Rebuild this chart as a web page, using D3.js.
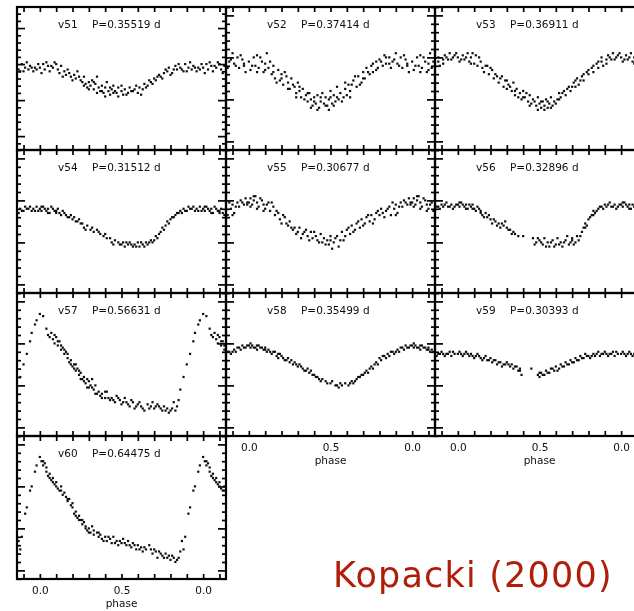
<!DOCTYPE html>
<html>
<head>
<meta charset="utf-8">
<script src="https://cdn.jsdelivr.net/npm/d3@7"></script>
<style>
  body { margin: 0; background: #fff; }
  svg { display: block; }
</style>
</head>
<body>
<script>
const width = 634;
const height = 611;

// star names and periods (days), in panel order
const names = ["v51", "v52", "v53", "v54", "v55", "v56", "v57", "v58", "v59", "v60"];
const periods = ["0.35519", "0.37414", "0.36911", "0.31512", "0.30677", "0.32896", "0.56631", "0.35499", "0.30393", "0.64475"];

// magnitude range shown in each panel (top, bottom)
const yRanges = [
  [-0.117, 0.677], [-0.04, 0.641], [-0.04, 0.641],
  [-0.04, 0.641], [-0.04, 0.641], [-0.04, 0.641],
  [-0.04, 0.641], [-0.04, 0.641], [-0.04, 0.641],
  [-0.04, 0.641]
];

const phaseTicks = [0, 0.5, 1];
const phaseLabels = ["0.0", "0.5", "0.0"];

// [phase, mag]
const v51 = [[0.00,0.22],[0.02,0.20],[0.03,0.23],[0.05,0.21],[0.06,0.24],[0.08,0.22],[0.09,0.19],[0.11,0.23],[0.12,0.25],[0.13,0.21],[0.15,0.24],[0.16,0.26],[0.18,0.25],[0.19,0.27],[0.21,0.26],[0.22,0.28],[0.23,0.24],[0.25,0.29],[0.26,0.30],[0.27,0.27],[0.28,0.31],[0.29,0.33],[0.30,0.30],[0.31,0.32],[0.32,0.29],[0.33,0.34],[0.34,0.31],[0.35,0.27],[0.36,0.33],[0.37,0.35],[0.38,0.32],[0.39,0.36],[0.40,0.33],[0.41,0.30],[0.42,0.35],[0.43,0.37],[0.44,0.34],[0.45,0.32],[0.46,0.35],[0.47,0.36],[0.48,0.33],[0.50,0.35],[0.51,0.37],[0.52,0.34],[0.54,0.36],[0.55,0.33],[0.57,0.35],[0.58,0.34],[0.60,0.36],[0.61,0.33],[0.63,0.34],[0.64,0.31],[0.66,0.32],[0.68,0.30],[0.70,0.28],[0.71,0.29],[0.73,0.26],[0.74,0.27],[0.76,0.25],[0.78,0.24],[0.79,0.22],[0.81,0.25],[0.83,0.21],[0.84,0.23],[0.86,0.22],[0.88,0.24],[0.89,0.20],[0.91,0.22],[0.93,0.23],[0.94,0.21],[0.96,0.24],[0.97,0.22],[0.99,0.20],
  [0.01,0.25],[0.04,0.19],[0.07,0.21],[0.10,0.20],[0.14,0.27],[0.17,0.23],[0.20,0.29],[0.24,0.27],[0.27,0.32],[0.30,0.34],[0.33,0.30],[0.35,0.36],[0.38,0.35],[0.40,0.38],[0.43,0.33],[0.45,0.36],[0.48,0.38],[0.50,0.32],[0.53,0.37],[0.56,0.35],[0.59,0.32],[0.62,0.37],[0.65,0.33],[0.67,0.29],[0.69,0.31],[0.72,0.27],[0.75,0.28],[0.77,0.23],[0.80,0.26],[0.82,0.23],[0.85,0.20],[0.87,0.23],[0.90,0.24],[0.92,0.19],[0.95,0.22],[0.98,0.23]];

const v52 = [[0.00,0.22],[0.01,0.26],[0.03,0.20],[0.04,0.24],[0.05,0.19],[0.06,0.25],[0.08,0.22],[0.09,0.27],[0.10,0.23],[0.11,0.18],[0.12,0.25],[0.14,0.28],[0.15,0.24],[0.16,0.30],[0.18,0.26],[0.19,0.31],[0.20,0.28],[0.21,0.33],[0.23,0.29],[0.24,0.32],[0.25,0.35],[0.26,0.30],[0.28,0.34],[0.29,0.37],[0.30,0.32],[0.31,0.36],[0.32,0.39],[0.33,0.35],[0.35,0.38],[0.36,0.41],[0.37,0.37],[0.38,0.40],[0.39,0.43],[0.40,0.39],[0.41,0.42],[0.42,0.38],[0.43,0.44],[0.44,0.41],[0.45,0.37],[0.46,0.42],[0.47,0.39],[0.48,0.43],[0.49,0.40],[0.50,0.36],[0.51,0.42],[0.52,0.38],[0.53,0.41],[0.54,0.34],[0.55,0.40],[0.56,0.37],[0.58,0.39],[0.59,0.35],[0.60,0.38],[0.61,0.33],[0.62,0.36],[0.64,0.31],[0.66,0.34],[0.67,0.29],[0.69,0.32],[0.70,0.27],[0.71,0.30],[0.72,0.25],[0.74,0.28],[0.75,0.24],[0.76,0.27],[0.78,0.22],[0.79,0.25],[0.80,0.21],[0.82,0.24],[0.83,0.19],[0.84,0.23],[0.86,0.20],[0.87,0.25],[0.88,0.22],[0.90,0.18],[0.91,0.23],[0.93,0.20],[0.94,0.25],[0.96,0.21],[0.97,0.24],[0.98,0.27],
  [0.02,0.24],[0.05,0.27],[0.07,0.20],[0.10,0.26],[0.13,0.22],[0.15,0.27],[0.17,0.32],[0.20,0.30],[0.22,0.27],[0.24,0.35],[0.27,0.33],[0.29,0.39],[0.31,0.34],[0.34,0.40],[0.36,0.37],[0.38,0.44],[0.40,0.41],[0.42,0.45],[0.44,0.39],[0.47,0.43],[0.49,0.45],[0.50,0.39],[0.52,0.43],[0.54,0.39],[0.57,0.41],[0.59,0.32],[0.62,0.39],[0.63,0.33],[0.65,0.29],[0.68,0.33],[0.70,0.30],[0.73,0.27],[0.76,0.23],[0.78,0.26],[0.81,0.22],[0.84,0.20],[0.86,0.23],[0.89,0.21],[0.92,0.24],[0.95,0.19],[0.97,0.23]];

const v53 = [[0.00,0.20],[0.01,0.22],[0.03,0.19],[0.04,0.21],[0.06,0.18],[0.07,0.22],[0.08,0.20],[0.10,0.23],[0.11,0.19],[0.12,0.24],[0.14,0.22],[0.15,0.25],[0.16,0.27],[0.18,0.24],[0.19,0.28],[0.21,0.26],[0.22,0.30],[0.24,0.29],[0.25,0.32],[0.26,0.30],[0.28,0.34],[0.29,0.31],[0.30,0.35],[0.31,0.33],[0.33,0.36],[0.34,0.32],[0.35,0.38],[0.36,0.35],[0.38,0.37],[0.39,0.40],[0.40,0.36],[0.41,0.39],[0.43,0.41],[0.44,0.38],[0.45,0.42],[0.46,0.40],[0.48,0.43],[0.49,0.39],[0.50,0.42],[0.51,0.44],[0.52,0.41],[0.53,0.43],[0.54,0.40],[0.55,0.44],[0.56,0.42],[0.57,0.39],[0.58,0.43],[0.59,0.41],[0.61,0.40],[0.62,0.37],[0.63,0.39],[0.65,0.36],[0.66,0.38],[0.68,0.34],[0.69,0.36],[0.71,0.32],[0.72,0.34],[0.73,0.30],[0.75,0.31],[0.76,0.29],[0.77,0.31],[0.79,0.27],[0.80,0.28],[0.82,0.25],[0.83,0.27],[0.85,0.23],[0.86,0.25],[0.88,0.22],[0.89,0.24],[0.91,0.21],[0.92,0.19],[0.94,0.21],[0.95,0.18],[0.97,0.20],[0.98,0.19],
  [0.02,0.21],[0.05,0.20],[0.08,0.23],[0.09,0.18],[0.13,0.20],[0.17,0.24],[0.20,0.25],[0.23,0.28],[0.27,0.29],[0.30,0.31],[0.32,0.34],[0.35,0.36],[0.37,0.39],[0.40,0.39],[0.42,0.37],[0.44,0.43],[0.47,0.41],[0.49,0.45],[0.51,0.41],[0.53,0.45],[0.55,0.41],[0.57,0.44],[0.60,0.42],[0.62,0.40],[0.64,0.37],[0.67,0.35],[0.70,0.34],[0.72,0.31],[0.74,0.33],[0.77,0.28],[0.80,0.26],[0.83,0.24],[0.86,0.22],[0.88,0.20],[0.91,0.23],[0.93,0.20],[0.96,0.21],[0.99,0.18]];

const v54 = [[0.00,0.24],[0.01,0.25],[0.02,0.23],[0.04,0.25],[0.05,0.24],[0.06,0.26],[0.07,0.23],[0.09,0.25],[0.10,0.26],[0.11,0.24],[0.13,0.27],[0.14,0.25],[0.16,0.27],[0.17,0.28],[0.19,0.27],[0.20,0.29],[0.22,0.30],[0.24,0.29],[0.25,0.31],[0.27,0.33],[0.29,0.32],[0.31,0.34],[0.33,0.35],[0.35,0.34],[0.37,0.36],[0.39,0.37],[0.41,0.38],[0.43,0.38],[0.44,0.40],[0.46,0.39],[0.48,0.40],[0.49,0.41],[0.51,0.40],[0.52,0.42],[0.54,0.41],[0.55,0.40],[0.57,0.42],[0.58,0.41],[0.60,0.40],[0.61,0.42],[0.63,0.41],[0.65,0.40],[0.66,0.41],[0.68,0.39],[0.70,0.39],[0.71,0.37],[0.73,0.36],[0.74,0.35],[0.75,0.33],[0.77,0.32],[0.78,0.30],[0.80,0.29],[0.81,0.28],[0.83,0.27],[0.84,0.26],[0.86,0.25],[0.87,0.26],[0.88,0.24],[0.90,0.25],[0.91,0.23],[0.92,0.24],[0.94,0.23],[0.95,0.25],[0.96,0.24],[0.98,0.23],[0.99,0.25],
  [0.01,0.23],[0.03,0.24],[0.05,0.26],[0.08,0.24],[0.10,0.25],[0.12,0.26],[0.15,0.26],[0.18,0.28],[0.21,0.28],[0.23,0.30],[0.26,0.31],[0.28,0.34],[0.32,0.33],[0.36,0.35],[0.40,0.36],[0.45,0.41],[0.50,0.41],[0.53,0.40],[0.56,0.41],[0.59,0.42],[0.62,0.40],[0.64,0.42],[0.67,0.40],[0.69,0.40],[0.72,0.38],[0.76,0.34],[0.79,0.31],[0.82,0.28],[0.85,0.26],[0.89,0.25],[0.93,0.24],[0.97,0.25]];

const v55 = [[0.00,0.21],[0.01,0.19],[0.02,0.22],[0.03,0.20],[0.04,0.18],[0.05,0.21],[0.06,0.23],[0.08,0.20],[0.09,0.22],[0.10,0.24],[0.12,0.21],[0.13,0.25],[0.15,0.23],[0.16,0.27],[0.18,0.26],[0.19,0.29],[0.21,0.27],[0.23,0.31],[0.25,0.30],[0.27,0.34],[0.28,0.33],[0.30,0.35],[0.31,0.33],[0.33,0.36],[0.35,0.34],[0.36,0.37],[0.38,0.35],[0.39,0.38],[0.41,0.37],[0.42,0.39],[0.44,0.36],[0.45,0.40],[0.46,0.38],[0.48,0.39],[0.49,0.41],[0.50,0.37],[0.52,0.40],[0.53,0.38],[0.55,0.42],[0.56,0.39],[0.57,0.35],[0.59,0.37],[0.60,0.34],[0.62,0.36],[0.63,0.32],[0.65,0.34],[0.66,0.31],[0.68,0.33],[0.69,0.29],[0.71,0.31],[0.72,0.28],[0.74,0.30],[0.75,0.27],[0.77,0.29],[0.78,0.26],[0.80,0.27],[0.81,0.24],[0.83,0.28],[0.84,0.25],[0.86,0.23],[0.87,0.27],[0.89,0.24],[0.90,0.22],[0.91,0.26],[0.93,0.21],[0.94,0.23],[0.95,0.20],[0.97,0.22],[0.98,0.19],[0.99,0.21],
  [0.01,0.23],[0.03,0.18],[0.05,0.24],[0.07,0.19],[0.09,0.25],[0.11,0.22],[0.14,0.21],[0.17,0.25],[0.20,0.31],[0.22,0.28],[0.24,0.32],[0.26,0.33],[0.29,0.36],[0.32,0.38],[0.34,0.35],[0.37,0.39],[0.40,0.35],[0.43,0.40],[0.47,0.41],[0.50,0.39],[0.51,0.43],[0.54,0.37],[0.58,0.39],[0.61,0.33],[0.64,0.35],[0.67,0.30],[0.70,0.32],[0.73,0.27],[0.76,0.31],[0.79,0.25],[0.82,0.26],[0.85,0.24],[0.88,0.21],[0.90,0.27],[0.92,0.23],[0.96,0.21],[0.99,0.22]];

const v56 = [[0.00,0.22],[0.01,0.23],[0.02,0.21],[0.04,0.23],[0.05,0.22],[0.06,0.24],[0.08,0.23],[0.09,0.22],[0.10,0.24],[0.11,0.25],[0.13,0.24],[0.14,0.26],[0.15,0.27],[0.17,0.26],[0.18,0.28],[0.20,0.29],[0.21,0.31],[0.23,0.30],[0.25,0.31],[0.26,0.33],[0.28,0.32],[0.29,0.30],[0.31,0.34],[0.33,0.36],[0.34,0.35],[0.37,0.37],[0.40,0.37],[0.46,0.38],[0.48,0.40],[0.50,0.39],[0.52,0.41],[0.53,0.38],[0.55,0.40],[0.56,0.42],[0.58,0.39],[0.60,0.41],[0.61,0.38],[0.63,0.40],[0.64,0.42],[0.66,0.39],[0.67,0.37],[0.69,0.40],[0.70,0.38],[0.71,0.41],[0.73,0.37],[0.74,0.39],[0.76,0.35],[0.77,0.33],[0.78,0.31],[0.79,0.32],[0.80,0.29],[0.82,0.27],[0.83,0.25],[0.84,0.26],[0.86,0.24],[0.87,0.23],[0.89,0.24],[0.90,0.22],[0.91,0.23],[0.93,0.21],[0.94,0.23],[0.96,0.22],[0.97,0.24],[0.99,0.22],
  [0.01,0.21],[0.03,0.22],[0.05,0.24],[0.07,0.22],[0.09,0.24],[0.12,0.23],[0.14,0.25],[0.16,0.28],[0.19,0.27],[0.22,0.29],[0.24,0.32],[0.27,0.31],[0.30,0.33],[0.32,0.34],[0.35,0.36],[0.47,0.41],[0.49,0.38],[0.51,0.40],[0.54,0.42],[0.57,0.40],[0.59,0.42],[0.62,0.41],[0.65,0.40],[0.68,0.41],[0.70,0.39],[0.72,0.40],[0.75,0.37],[0.78,0.33],[0.81,0.28],[0.83,0.27],[0.85,0.25],[0.88,0.23],[0.92,0.22],[0.95,0.23],[0.98,0.23]];

const v57 = [[0.00,0.06],[0.02,0.07],[0.04,0.13],[0.05,0.16],[0.07,0.15],[0.08,0.18],[0.09,0.20],[0.10,0.17],[0.11,0.21],[0.12,0.19],[0.13,0.23],[0.14,0.22],[0.15,0.25],[0.16,0.24],[0.17,0.27],[0.18,0.29],[0.19,0.28],[0.20,0.31],[0.21,0.30],[0.22,0.33],[0.23,0.32],[0.24,0.35],[0.25,0.34],[0.26,0.37],[0.27,0.36],[0.28,0.39],[0.29,0.41],[0.30,0.38],[0.31,0.40],[0.32,0.37],[0.33,0.42],[0.34,0.44],[0.36,0.43],[0.37,0.45],[0.38,0.44],[0.40,0.46],[0.41,0.43],[0.43,0.47],[0.44,0.46],[0.46,0.48],[0.47,0.45],[0.49,0.47],[0.50,0.49],[0.52,0.46],[0.53,0.48],[0.55,0.50],[0.57,0.48],[0.58,0.51],[0.60,0.49],[0.62,0.50],[0.64,0.52],[0.66,0.49],[0.68,0.50],[0.69,0.48],[0.70,0.51],[0.72,0.49],[0.73,0.50],[0.75,0.52],[0.76,0.50],[0.78,0.51],[0.79,0.53],[0.81,0.51],[0.82,0.48],[0.83,0.52],[0.85,0.47],[0.86,0.42],[0.88,0.36],[0.90,0.30],[0.92,0.25],[0.94,0.19],[0.95,0.15],[0.97,0.11],[0.98,0.09],
  [0.06,0.17],[0.09,0.16],[0.11,0.19],[0.13,0.21],[0.15,0.23],[0.17,0.25],[0.19,0.30],[0.21,0.32],[0.22,0.30],[0.24,0.33],[0.25,0.37],[0.27,0.38],[0.29,0.37],[0.30,0.41],[0.32,0.41],[0.34,0.40],[0.35,0.44],[0.38,0.46],[0.40,0.43],[0.42,0.46],[0.45,0.47],[0.48,0.46],[0.51,0.48],[0.54,0.49],[0.56,0.47],[0.59,0.50],[0.61,0.48],[0.63,0.51],[0.67,0.51],[0.71,0.50],[0.74,0.51],[0.77,0.52],[0.80,0.52],[0.84,0.50]];

const v58 = [[0.00,0.21],[0.01,0.22],[0.02,0.21],[0.04,0.22],[0.05,0.23],[0.06,0.21],[0.07,0.22],[0.09,0.23],[0.10,0.22],[0.11,0.24],[0.12,0.23],[0.14,0.25],[0.15,0.24],[0.17,0.26],[0.18,0.27],[0.19,0.25],[0.21,0.27],[0.22,0.28],[0.24,0.27],[0.25,0.29],[0.27,0.30],[0.28,0.29],[0.30,0.31],[0.31,0.30],[0.33,0.32],[0.34,0.33],[0.36,0.32],[0.37,0.34],[0.39,0.35],[0.41,0.36],[0.43,0.37],[0.45,0.37],[0.47,0.38],[0.50,0.39],[0.53,0.40],[0.55,0.41],[0.57,0.40],[0.59,0.39],[0.61,0.40],[0.63,0.38],[0.64,0.39],[0.66,0.37],[0.68,0.36],[0.70,0.35],[0.72,0.33],[0.73,0.34],[0.75,0.31],[0.76,0.32],[0.78,0.29],[0.79,0.30],[0.81,0.28],[0.82,0.26],[0.84,0.27],[0.85,0.25],[0.86,0.26],[0.88,0.24],[0.89,0.25],[0.91,0.23],[0.92,0.24],[0.94,0.22],[0.95,0.23],[0.96,0.21],[0.98,0.22],[0.99,0.21],
  [0.01,0.20],[0.03,0.22],[0.05,0.21],[0.08,0.22],[0.10,0.23],[0.13,0.24],[0.16,0.24],[0.18,0.25],[0.20,0.26],[0.23,0.28],[0.26,0.28],[0.29,0.30],[0.32,0.31],[0.35,0.33],[0.38,0.33],[0.40,0.35],[0.42,0.36],[0.44,0.38],[0.48,0.39],[0.51,0.38],[0.54,0.40],[0.56,0.39],[0.62,0.39],[0.65,0.38],[0.67,0.36],[0.69,0.35],[0.71,0.34],[0.74,0.32],[0.77,0.30],[0.80,0.27],[0.83,0.26],[0.87,0.24],[0.90,0.24],[0.93,0.22],[0.97,0.22]];

const v59 = [[0.00,0.25],[0.01,0.24],[0.03,0.26],[0.04,0.25],[0.05,0.24],[0.07,0.26],[0.08,0.25],[0.10,0.27],[0.11,0.26],[0.12,0.25],[0.14,0.27],[0.15,0.28],[0.17,0.26],[0.18,0.28],[0.20,0.27],[0.21,0.29],[0.23,0.28],[0.24,0.30],[0.26,0.29],[0.27,0.31],[0.29,0.30],[0.30,0.29],[0.32,0.31],[0.33,0.30],[0.34,0.32],[0.36,0.31],[0.37,0.33],[0.38,0.32],[0.39,0.35],[0.45,0.32],[0.49,0.35],[0.50,0.36],[0.51,0.34],[0.53,0.35],[0.54,0.33],[0.56,0.34],[0.57,0.32],[0.59,0.33],[0.60,0.31],[0.62,0.32],[0.63,0.30],[0.65,0.31],[0.66,0.29],[0.68,0.30],[0.69,0.28],[0.71,0.29],[0.72,0.27],[0.74,0.28],[0.75,0.26],[0.77,0.27],[0.78,0.25],[0.80,0.26],[0.81,0.27],[0.83,0.25],[0.84,0.26],[0.86,0.24],[0.87,0.26],[0.89,0.25],[0.90,0.24],[0.92,0.26],[0.93,0.25],[0.95,0.24],[0.96,0.26],[0.98,0.25],
  [0.02,0.25],[0.06,0.25],[0.09,0.26],[0.13,0.26],[0.16,0.27],[0.19,0.28],[0.22,0.28],[0.25,0.29],[0.28,0.30],[0.31,0.30],[0.35,0.31],[0.38,0.33],[0.50,0.34],[0.52,0.35],[0.55,0.34],[0.58,0.32],[0.61,0.33],[0.64,0.31],[0.67,0.30],[0.70,0.29],[0.73,0.28],[0.76,0.27],[0.79,0.26],[0.82,0.26],[0.85,0.25],[0.88,0.25],[0.91,0.25],[0.94,0.25],[0.97,0.24]];

const v60 = [[0.00,0.06],[0.01,0.08],[0.02,0.10],[0.03,0.09],[0.04,0.13],[0.05,0.15],[0.06,0.14],[0.07,0.17],[0.08,0.16],[0.09,0.19],[0.10,0.18],[0.11,0.21],[0.12,0.22],[0.13,0.20],[0.14,0.24],[0.16,0.25],[0.17,0.27],[0.18,0.26],[0.19,0.29],[0.20,0.30],[0.21,0.33],[0.22,0.32],[0.23,0.35],[0.24,0.34],[0.25,0.36],[0.26,0.38],[0.27,0.37],[0.28,0.39],[0.29,0.41],[0.30,0.40],[0.31,0.42],[0.32,0.39],[0.33,0.43],[0.35,0.42],[0.36,0.44],[0.37,0.43],[0.38,0.45],[0.40,0.44],[0.41,0.46],[0.43,0.45],[0.44,0.47],[0.45,0.44],[0.47,0.46],[0.48,0.48],[0.50,0.47],[0.51,0.45],[0.53,0.48],[0.54,0.46],[0.56,0.49],[0.57,0.47],[0.59,0.50],[0.60,0.48],[0.62,0.49],[0.63,0.51],[0.65,0.50],[0.67,0.48],[0.69,0.52],[0.70,0.50],[0.72,0.54],[0.73,0.51],[0.75,0.53],[0.77,0.52],[0.78,0.54],[0.80,0.55],[0.81,0.53],[0.83,0.56],[0.84,0.55],[0.86,0.51],[0.87,0.46],[0.88,0.50],[0.89,0.44],[0.91,0.33],[0.92,0.30],[0.94,0.22],[0.95,0.20],[0.97,0.13],[0.98,0.10],
  [0.02,0.08],[0.04,0.11],[0.06,0.16],[0.08,0.18],[0.10,0.20],[0.13,0.22],[0.15,0.23],[0.17,0.26],[0.20,0.28],[0.22,0.34],[0.24,0.36],[0.26,0.36],[0.28,0.40],[0.30,0.42],[0.33,0.41],[0.36,0.42],[0.39,0.46],[0.42,0.44],[0.46,0.47],[0.49,0.46],[0.52,0.47],[0.55,0.48],[0.58,0.48],[0.61,0.50],[0.64,0.49],[0.68,0.50],[0.71,0.51],[0.74,0.52],[0.76,0.54],[0.79,0.53],[0.82,0.54],[0.85,0.54]];

const curves = [v51, v52, v53, v54, v55, v56, v57, v58, v59, v60];

// panel grid
const grid = { left: 17, top: 7, w: 209, h: 143, cols: 3 };

const svg = d3.select("body").append("svg")
  .attr("width", width)
  .attr("height", height);

svg.append("defs").append("filter")
  .attr("id", "soft")
  .append("feGaussianBlur")
  .attr("stdDeviation", 0.45);

const chart = svg.append("g").attr("filter", "url(#soft)");

const x = d3.scaleLinear().domain([-0.14, 1.14]).range([0, grid.w]);
const xTicks = d3.range(-1, 12).map((k) => k / 10);

curves.forEach((data, i) => {
  const col = i % grid.cols;
  const row = Math.floor(i / grid.cols);
  const g = chart.append("g")
    .attr("transform", `translate(${grid.left + col * grid.w}, ${grid.top + row * grid.h})`);

  const y = d3.scaleLinear().domain(yRanges[i]).range([0, grid.h]);

  // y ticks: majors every 0.2 mag, minors every 0.04
  const [y0, y1] = yRanges[i];
  const all = d3.range(Math.ceil(y0 / 0.04 - 1e-6), Math.floor(y1 / 0.04 + 1e-6) + 1);
  const major = all.filter((k) => k % 5 === 0).map((k) => k * 0.04);
  const minor = all.filter((k) => k % 5 !== 0).map((k) => k * 0.04);

  const axes = [
    d3.axisTop(x).tickValues(xTicks).tickSize(-5),
    d3.axisBottom(x).tickValues(xTicks).tickSize(-5),
    d3.axisLeft(y).tickValues(major).tickSize(-8),
    d3.axisLeft(y).tickValues(minor).tickSize(-4),
    d3.axisRight(y).tickValues(major).tickSize(-8),
    d3.axisRight(y).tickValues(minor).tickSize(-4)
  ];
  const shifts = ["0,0", `0,${grid.h}`, "0,0", "0,0", `${grid.w},0`, `${grid.w},0`];
  axes.forEach((ax, j) => {
    const a = g.append("g")
      .attr("transform", `translate(${shifts[j]})`)
      .call(ax.tickFormat(""));
    a.select(".domain").remove();
    a.selectAll("line").attr("stroke", "#000").attr("stroke-width", 1.7);
  });

  g.append("rect")
    .attr("width", grid.w)
    .attr("height", grid.h)
    .attr("fill", "none")
    .attr("stroke", "#000")
    .attr("stroke-width", 2.2);

  // phase-folded points, repeated one cycle either side
  const pts = [];
  data.forEach(([p, m]) => {
    [-1, 0, 1].forEach((s) => {
      const q = p + s;
      if (q > -0.135 && q < 1.135) pts.push([q, m]);
    });
  });
  g.selectAll("rect.pt")
    .data(pts)
    .enter()
    .append("rect")
    .attr("class", "pt")
    .attr("x", (d) => x(d[0]) - 1.1)
    .attr("y", (d) => y(d[1]) - 1.1)
    .attr("width", 2.2)
    .attr("height", 2.2)
    .attr("fill", "#111");

  g.append("text")
    .attr("x", 41)
    .attr("y", 21)
    .attr("font-family", "DejaVu Sans, sans-serif")
    .attr("font-size", 10.5)
    .attr("fill", "#111")
    .text(names[i]);
  g.append("text")
    .attr("x", 75)
    .attr("y", 21)
    .attr("font-family", "DejaVu Sans, sans-serif")
    .attr("font-size", 10.5)
    .attr("fill", "#111")
    .text(`P=${periods[i]} d`);

  // phase labels under the lowest panel of each column
  const below = i + grid.cols;
  if (below >= curves.length) {
    const lab = g.append("g")
      .attr("transform", `translate(0, ${grid.h})`)
      .call(d3.axisBottom(x).tickValues(phaseTicks).tickSize(0).tickPadding(8)
        .tickFormat((d, k) => phaseLabels[k]));
    lab.select(".domain").remove();
    lab.selectAll("text")
      .attr("font-family", "DejaVu Sans, sans-serif")
      .attr("font-size", 10.5)
      .attr("fill", "#111");
    g.append("text")
      .attr("x", x(0.5))
      .attr("y", grid.h + 28)
      .attr("text-anchor", "middle")
      .attr("font-family", "DejaVu Sans, sans-serif")
      .attr("font-size", 10.5)
      .attr("fill", "#111")
      .text("phase");
  }
});

svg.append("text")
  .attr("x", 333)
  .attr("y", 587)
  .attr("font-family", "DejaVu Sans, sans-serif")
  .attr("font-size", 35)
  .attr("letter-spacing", 1.2)
  .attr("fill", "#b01e0a")
  .text("Kopacki (2000)");
</script>
</body>
</html>
